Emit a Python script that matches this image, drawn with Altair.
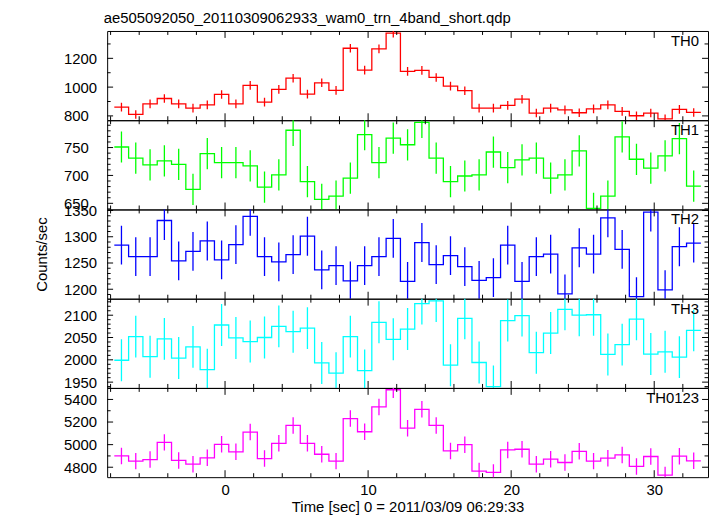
import altair as alt
import pandas as pd

title_text = "ae505092050_20110309062933_wam0_trn_4band_short.qdp"
x_title = "Time [sec] 0 = 2011/03/09 06:29:33"
y_title = "Counts/sec"

# bin centres (1 s bins)
times = [round(-7.24 + i, 2) for i in range(41)]
bin_width = 1.0

th0 = [861, 810, 884, 921, 884, 854, 877, 949, 884, 1012, 896, 984, 1062, 951, 1030, 977, 1270, 1118,
       1266, 1375, 1109, 1116, 1067, 1007, 975, 854, 854, 873, 916, 820, 854, 842, 822, 849, 877, 831,
       801, 820, 780, 845, 824]
th1 = [751, 731, 719, 726, 720, 675, 739, 723, 723, 717, 679, 701, 781, 689, 657, 663, 695, 773,
       723, 767, 755, 795, 731, 689, 699, 701, 742, 714, 728, 731, 695, 701, 744, 641, 663, 769,
       729, 713, 735, 766, 681]
th2 = [1284, 1262, 1262, 1331, 1254, 1272, 1292, 1256, 1285, 1339, 1262, 1252, 1266, 1301, 1237, 1245, 1216, 1245,
       1262, 1297, 1215, 1289, 1247, 1264, 1243, 1217, 1222, 1284, 1215, 1262, 1267, 1191, 1279, 1267, 1336, 1276,
       1186, 1347, 1199, 1281, 1288]
th3 = [1999, 2052, 2007, 2047, 2004, 2029, 1978, 2078, 2049, 2041, 2050, 2075, 2063, 2071, 1993, 1970, 2052, 1976,
       2084, 2046, 2069, 2126, 2132, 1988, 2093, 1994, 1940, 2088, 2099, 2016, 2060, 2113, 2100, 2101, 2012, 2034,
       2091, 2013, 2018, 2006, 2066]
th0123 = [4900, 4854, 4868, 5020, 4860, 4827, 4883, 5003, 4936, 5111, 4877, 5012, 5170, 5012, 4915, 4854, 5231, 5114,
          5334, 5486, 5146, 5313, 5170, 4944, 5000, 4766, 4754, 4953, 4959, 4827, 4871, 4842, 4941, 4854, 4880, 4909,
          4807, 4895, 4731, 4898, 4857]

# approximate 1-sigma errors per band
errors = {"TH0": 30, "TH1": 28, "TH2": 37, "TH3": 47, "TH0123": 73}

names = ["TH0", "TH1", "TH2", "TH3", "TH0123"]
series = [th0, th1, th2, th3, th0123]
colors = ["#ff0000", "#00ff00", "#0000ff", "#00ffff", "#ff00ff"]
y_domains = [[770, 1390], [639, 799], [1182, 1352], [1937, 2137], [4712, 5502]]
y_labels = [[800, 1000, 1200], [650, 700, 750], [1200, 1250, 1300, 1350],
            [1950, 2000, 2050, 2100], [4800, 5000, 5200, 5400]]
y_minor = [list(range(800, 1400, 100)), list(range(640, 800, 10)), list(range(1190, 1360, 10)),
           list(range(1940, 2140, 10)), list(range(4800, 5600, 100))]
x_domain = [-8.24, 33.76]
x_major = [0, 10, 20, 30]
x_minor = list(range(-8, 34, 2))

FONT = "Liberation Sans"
W, H = 606, 90


def make_panel(idx):
    name = names[idx]
    vals = series[idx]
    err = errors[name]
    color = colors[idx]
    bottom = idx == len(names) - 1

    df = pd.DataFrame({"t": times, "v": vals})
    df["lo"] = df["v"] - err
    df["hi"] = df["v"] + err
    edges = [t - bin_width / 2 for t in times] + [times[-1] + bin_width / 2]
    step_df = pd.DataFrame({"t": edges, "v": vals + [vals[-1]]})

    xs = alt.Scale(domain=x_domain, nice=False, zero=False)
    ys = alt.Scale(domain=y_domains[idx], nice=False, zero=False)

    if bottom:
        xaxis = alt.Axis(values=x_major, ticks=False, tickSize=0, domain=False, grid=False,
                         labelFont=FONT, labelFontSize=15, labelColor="black", labelPadding=5,
                         labelFlush=False, labelOverlap=False, format="d",
                         title=x_title, titleFont=FONT, titleFontSize=15, titleFontWeight="normal",
                         titleColor="black", titlePadding=3)
    else:
        xaxis = None

    yaxis_kw = dict(values=y_labels[idx], ticks=False, tickSize=0, domain=False, grid=False,
                    labelFont=FONT, labelFontSize=15, labelColor="black", labelAlign="left",
                    labelPadding=44, labelFlush=False, labelOverlap=False, format="d")
    if idx == 2:
        yaxis = alt.Axis(title=y_title, titleFont=FONT, titleFontSize=15, titleFontWeight="normal",
                         titleColor="black", titlePadding=14, **yaxis_kw)
    else:
        yaxis = alt.Axis(title=None, **yaxis_kw)

    X = lambda f: alt.X(f, type="quantitative", scale=xs, axis=xaxis)
    Y = lambda f: alt.Y(f, type="quantitative", scale=ys, axis=yaxis)

    line = alt.Chart(step_df).mark_line(interpolate="step-after", color=color, strokeWidth=1.3,
                                        clip=True).encode(x=X("t"), y=Y("v"))
    bars = alt.Chart(df).mark_rule(color=color, strokeWidth=1.3, clip=True).encode(
        x=X("t"), y=Y("lo"), y2="hi")

    ymaj = pd.DataFrame({"y": y_labels[idx]})
    ymin = pd.DataFrame({"y": [v for v in y_minor[idx] if v not in y_labels[idx]]})
    xmaj = pd.DataFrame({"x": x_major})
    xmin = pd.DataFrame({"x": [v for v in x_minor if v not in x_major]})

    layers = [line, bars]
    for d, L in ((ymaj, 6), (ymin, 3.5)):
        layers.append(alt.Chart(d).mark_rule(color="black", strokeWidth=1).encode(
            y=Y("y"), x=alt.value(0), x2=alt.value(L)))
        layers.append(alt.Chart(d).mark_rule(color="black", strokeWidth=1).encode(
            y=Y("y"), x=alt.value(W - L), x2=alt.value(W)))
    for d, L in ((xmaj, 7), (xmin, 4)):
        layers.append(alt.Chart(d).mark_rule(color="black", strokeWidth=1).encode(
            x=X("x"), y=alt.value(0), y2=alt.value(L)))
        layers.append(alt.Chart(d).mark_rule(color="black", strokeWidth=1).encode(
            x=X("x"), y=alt.value(H - L), y2=alt.value(H)))

    label = alt.Chart(pd.DataFrame({"name": [name]})).mark_text(
        align="right", baseline="middle", font=FONT, fontSize=15, color="black").encode(
        x=alt.value(W - 9), y=alt.value(10), text="name:N")
    layers.append(label)

    return alt.layer(*layers).properties(width=W, height=H)


panels = [make_panel(i) for i in range(len(names))]

chart = alt.vconcat(*panels, spacing=0, bounds="flush").properties(
    title=alt.TitleParams(text=title_text, anchor="start", font=FONT, fontSize=15,
                          fontWeight="normal", color="black", offset=4, dx=70),
    padding={"left": 26, "top": 1, "right": 0, "bottom": 0},
    background="white",
).configure_view(stroke="black", strokeWidth=1).configure_concat(spacing=0)

chart.save("out.html", embed_options={"renderer": "svg", "actions": False})
